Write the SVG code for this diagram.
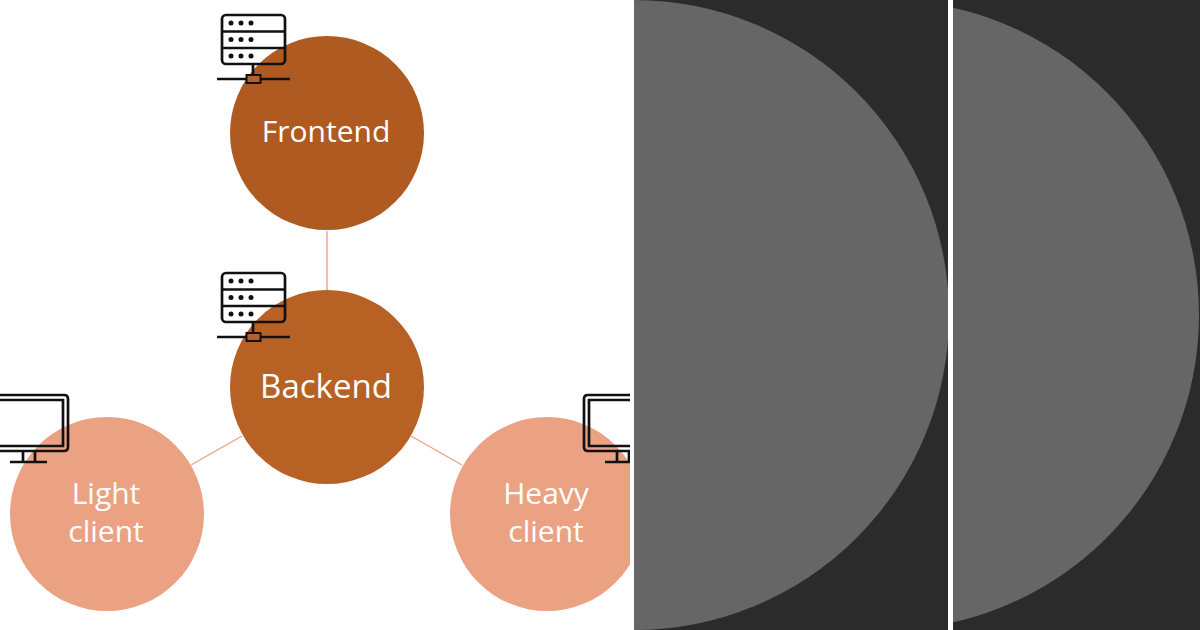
<svg xmlns="http://www.w3.org/2000/svg" width="1200" height="630" viewBox="0 0 1200 630">
<style>
.l{fill:#fff;font-family:"Open Sans","Noto Sans",sans-serif;text-anchor:middle}
.f{font-size:30px}
.b{font-size:33px}
.sm{font-size:30px}
.ic{fill:none;stroke:#111;stroke-width:2.7}
.d{fill:#111}
.c{stroke:#eba283;stroke-width:1.4;fill:none}
</style>
<defs>
<clipPath id="left"><rect x="0" y="0" width="630" height="630"/></clipPath>
<clipPath id="p1"><rect x="634" y="0" width="314" height="630"/></clipPath>
<clipPath id="p2"><rect x="953" y="0" width="247" height="630"/></clipPath>
<g id="server">
<rect class="ic" x="222" y="15" width="63" height="49" rx="4"/>
<path class="ic" d="M222 31.500H285M222 48H285M253 64V76M217 79H246M261 79H290"/>
<rect x="246.500" y="75" width="14" height="8" fill="#b5602a" stroke="#111" stroke-width="2"/>
<g class="d"><circle cx="231" cy="23" r="2.500"/><circle cx="241" cy="23" r="2.500"/><circle cx="251" cy="23" r="2.500"/><circle cx="231" cy="39.500" r="2.500"/><circle cx="241" cy="39.500" r="2.500"/><circle cx="251" cy="39.500" r="2.500"/><circle cx="231" cy="56" r="2.500"/><circle cx="241" cy="56" r="2.500"/><circle cx="251" cy="56" r="2.500"/></g>
</g>
</defs>
<rect width="1200" height="630" fill="#fff"/>
<g id="panels">
<rect x="634" y="0" width="314" height="630" fill="#2b2b2b"/>
<rect x="953" y="0" width="247" height="630" fill="#2b2b2b"/>
<circle cx="634" cy="315" r="315" fill="#666" clip-path="url(#p1)"/>
<circle cx="884" cy="315" r="315" fill="#666" clip-path="url(#p2)"/>
</g>
<g id="connectors">
<path class="c" d="M327 231V290M191 465L242 436M411 436L462 465"/>
</g>
<g clip-path="url(#left)">
<g id="frontend">
<circle cx="327" cy="133" r="97" fill="#ae5a21"/>
<text class="l f" x="326" y="142">Frontend</text>
<use href="#server"/>
</g>
<g id="backend">
<circle cx="327" cy="387" r="97" fill="#b86125"/>
<text class="l b" x="326" y="398">Backend</text>
<use href="#server" y="258"/>
</g>
<g id="light-client">
<circle cx="107" cy="514" r="97" fill="#eba283"/>
<text class="l sm" x="106" y="504">Light</text>
<text class="l sm" x="106" y="542">client</text>
<path class="ic" d="M0 395H64Q68 395 68 399V447Q68 451 64 451H0M0 400H63V446H0M23 451V462M35 451V462M10 462H47"/>
</g>
<g id="heavy-client">
<circle cx="547" cy="514" r="97" fill="#eba283"/>
<text class="l sm" x="546" y="504">Heavy</text>
<text class="l sm" x="546" y="542">client</text>
<path class="ic" d="M630 395H588Q584 395 584 399V447Q584 451 588 451H630M630 400H589V446H630M617 451V462M629 451V462M605 462H630"/>
</g>
</g>
</svg>
